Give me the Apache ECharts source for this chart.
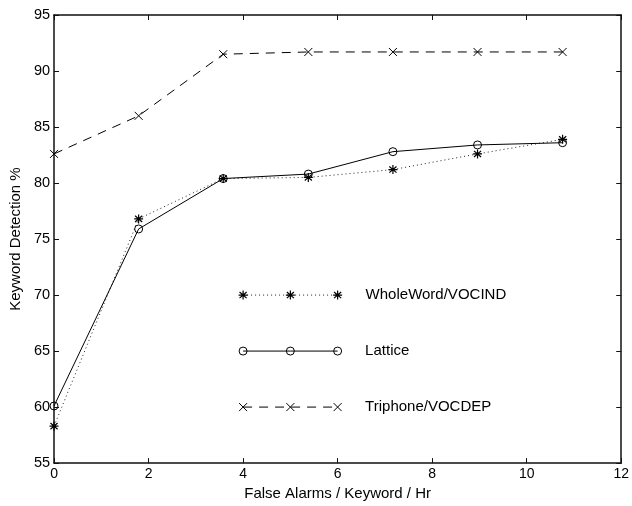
<!DOCTYPE html>
<html>
<head>
<meta charset="utf-8">
<script src="https://cdn.jsdelivr.net/npm/echarts@6/dist/echarts.min.js"></script>
<style>html,body{margin:0;padding:0;background:#fff;}#c{width:632px;height:506px;}</style>
</head>
<body>
<div id="c"></div>
<script>
const xValues = [0, 1.79, 3.58, 5.38, 7.17, 8.96, 10.76];
const wholeWord = [58.3, 76.8, 80.4, 80.5, 81.2, 82.6, 83.9];
const lattice = [60.1, 75.9, 80.4, 80.8, 82.8, 83.4, 83.6];
const triphone = [82.6, 86.0, 91.5, 91.7, 91.7, 91.7, 91.7];
const seriesNames = ['WholeWord/VOCIND', 'Lattice', 'Triphone/VOCDEP'];
const legendX = [4, 5, 6];
const legendY = [70, 65, 60];
const xTicks = [0, 2, 4, 6, 8, 10, 12];
const yTicks = [55, 60, 65, 70, 75, 80, 85, 90, 95];

const FONT = 'Liberation Sans, Arial, Helvetica, sans-serif';
const asterisk = 'path://M5,0L5,10M0.7,5L9.3,5M1.6,1.6L8.4,8.4M8.4,1.6L1.6,8.4';
const cross = 'path://M0,0L10,10M10,0L0,10';
const ring = 'path://M10,5A5,5 0 1 1 0,5A5,5 0 1 1 10,5Z';

const styles = [
  {symbol: asterisk, size: 9, line: {color: '#222', width: 1, type: [1, 3]}, item: {color: 'none', borderColor: '#000', borderWidth: 1.2}},
  {symbol: ring, size: 8, line: {color: '#000', width: 1, type: 'solid'}, item: {color: 'none', borderColor: '#000', borderWidth: 1}},
  {symbol: cross, size: 8, line: {color: '#000', width: 1, type: [9, 7]}, item: {color: 'none', borderColor: '#000', borderWidth: 1}}
];
const dataSets = [wholeWord, lattice, triphone];

const series = [];
dataSets.forEach((vals, i) => {
  const s = styles[i];
  series.push({
    name: seriesNames[i], type: 'line', xAxisIndex: 0, yAxisIndex: 0,
    data: xValues.map((x, k) => [x, vals[k]]),
    symbol: s.symbol, symbolSize: s.size, showAllSymbol: true,
    lineStyle: s.line, itemStyle: s.item, animation: false, z: 3 + i
  });
  series.push({
    name: seriesNames[i] + ' key', type: 'line', xAxisIndex: 0, yAxisIndex: 0,
    data: legendX.map(x => [x, legendY[i]]),
    symbol: s.symbol, symbolSize: s.size, showAllSymbol: true,
    lineStyle: s.line, itemStyle: s.item, animation: false,
    label: {
      show: true, position: 'right', distance: 21,
      formatter: p => p.dataIndex === legendX.length - 1 ? seriesNames[i] : '',
      color: '#000', fontFamily: FONT, fontSize: 15
    }
  });
});

const axisCommon = {
  axisLine: {show: true, onZero: false, lineStyle: {color: '#111', width: 1.5}},
  axisTick: {show: true, inside: true, length: 5, lineStyle: {color: '#111', width: 1}},
  splitLine: {show: false}
};

const chart = echarts.init(document.getElementById('c'), null, {renderer: 'canvas'});
chart.setOption({
  backgroundColor: '#fff',
  animation: false,
  grid: {left: 47, right: 9, top: 15, bottom: 35, containLabel: false},
  xAxis: [
    Object.assign({type: 'value', min: xTicks[0], max: xTicks[xTicks.length - 1], interval: 2, position: 'bottom',
      name: 'False Alarms / Keyword / Hr', nameLocation: 'middle', nameGap: 19,
      nameTextStyle: {color: '#000', fontFamily: FONT, fontSize: 15},
      axisLabel: {color: '#000', fontFamily: FONT, fontSize: 14, margin: 4}}, axisCommon),
    Object.assign({type: 'value', min: xTicks[0], max: xTicks[xTicks.length - 1], interval: 2, position: 'top',
      axisLabel: {show: false}}, axisCommon)
  ],
  yAxis: [
    Object.assign({type: 'value', min: yTicks[0], max: yTicks[yTicks.length - 1], interval: 5, position: 'left',
      name: 'Keyword Detection %', nameLocation: 'middle', nameGap: 30,
      nameTextStyle: {color: '#000', fontFamily: FONT, fontSize: 15},
      axisLabel: {color: '#000', fontFamily: FONT, fontSize: 14.5, margin: 4}}, axisCommon),
    Object.assign({type: 'value', min: yTicks[0], max: yTicks[yTicks.length - 1], interval: 5, position: 'right',
      axisLabel: {show: false}}, axisCommon)
  ],
  series: series
});
</script>
</body>
</html>
